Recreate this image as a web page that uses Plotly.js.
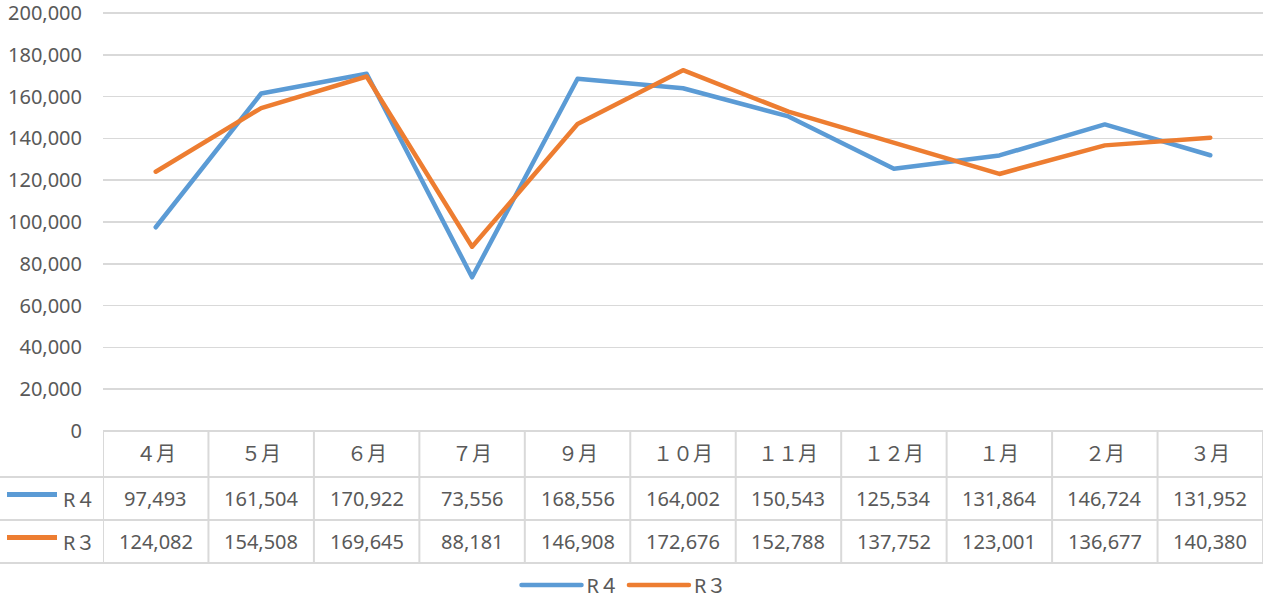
<!DOCTYPE html>
<html>
<head>
<meta charset="utf-8">
<script src="https://cdn.plot.ly/plotly-3.0.1.min.js"></script>
<style>
html,body{margin:0;padding:0;background:#fff;}
#chart{width:1268px;height:599px;}
.scatterlayer .js-line{stroke-linecap:round;stroke-linejoin:round;}
.legend .js-line{stroke-linecap:round;}
</style>
</head>
<body>
<div id="chart"></div>
<script>
// ---- data ----
var categories = ["４月","５月","６月","７月","９月","１０月","１１月","１２月","１月","２月","３月"];
var seriesNames = ["R４","R３"];
var r4Values = [97493,161504,170922,73556,168556,164002,150543,125534,131864,146724,131952];
var r3Values = [124082,154508,169645,88181,146908,172676,152788,137752,123001,136677,140380];
var yTicks = [0,20000,40000,60000,80000,100000,120000,140000,160000,180000,200000];

// ---- layout constants ----
var W = 1268, H = 599;
var L = 103, R = 5, T = 12, B = 168;
var plotW = W - L - R, plotH = H - T - B;
function py(p){ return (H - B - p) / plotH; }      // pixel y -> paper y
function px(p){ return (p - L) / plotW; }          // pixel x -> paper x

var blue = "#5B9BD5", orange = "#ED7D31";
var gridC = "#D9D9D9", textC = "#595959";
var FONT = "Noto Sans, Noto Sans CJK JP, sans-serif";
var FS = 20;

var traces = [
  {x: categories, y: r4Values, name: seriesNames[0], type: "scatter", mode: "lines",
   line: {color: blue, width: 4.5}, hoverinfo: "skip"},
  {x: categories, y: r3Values, name: seriesNames[1], type: "scatter", mode: "lines",
   line: {color: orange, width: 4.5}, hoverinfo: "skip"}
];

function fmt(v){ return v.toLocaleString("en-US"); }

var shapes = [], annotations = [];
var rowTop = 431, row1 = 477, row2 = 520, rowBot = 563;
var lineStyle = {color: gridC, width: 2};

// horizontal table lines
shapes.push({type:"line", xref:"paper", yref:"paper", x0:px(L), x1:px(W-R), y0:py(rowTop), y1:py(rowTop), line:lineStyle});
[row1,row2,rowBot].forEach(function(yy){
  shapes.push({type:"line", xref:"paper", yref:"paper", x0:px(0), x1:px(W-R), y0:py(yy), y1:py(yy), line:lineStyle});
});
// vertical table lines at category boundaries
for (var i = 0; i <= categories.length; i++){
  shapes.push({type:"line", xref:"x", yref:"paper", x0:i-0.5, x1:i-0.5, y0:py(rowTop), y1:py(rowBot), line:lineStyle});
}
// header and values
var rows = [
  {vals: categories, yc: (rowTop+row1)/2, fmt: function(v){return v;}, size: FS},
  {vals: r4Values, yc: (row1+row2)/2, fmt: fmt, size: FS},
  {vals: r3Values, yc: (row2+rowBot)/2, fmt: fmt, size: FS}
];
rows.forEach(function(r){
  r.vals.forEach(function(v, j){
    annotations.push({xref:"x", yref:"paper", x:j, y:py(r.yc), text:r.fmt(v), showarrow:false,
      xanchor:"center", yanchor:"middle", font:{family:FONT, size:r.size, color:textC}});
  });
});
// row header keys
[[seriesNames[0], blue, (row1+row2)/2 - 4],[seriesNames[1], orange, (row2+rowBot)/2 - 4]].forEach(function(k, idx){
  shapes.push({type:"line", xref:"paper", yref:"paper", x0:px(7), x1:px(57), y0:py(k[2]), y1:py(k[2]),
    line:{color:k[1], width:5}});
  annotations.push({xref:"paper", yref:"paper", x:px(61), y:py(k[2]+5), text:k[0], showarrow:false,
    xanchor:"left", yanchor:"middle", font:{family:FONT, size:FS, color:textC}});
});

var layout = {
  width: W, height: H,
  margin: {l: L, r: R, t: T, b: B, pad: 0, autoexpand: false},
  paper_bgcolor: "#fff", plot_bgcolor: "#fff",
  font: {family: FONT, size: FS, color: textC},
  showlegend: true,
  legend: {orientation: "h", x: px(624), xanchor: "center", y: py(585), yanchor: "middle",
           font: {family: FONT, size: FS, color: textC}, itemwidth: 60, traceorder: "normal",
           bgcolor: "rgba(0,0,0,0)"},
  xaxis: {type: "category", range: [-0.5, categories.length - 0.5], showticklabels: false,
          showgrid: false, zeroline: false, showline: false, ticks: "", fixedrange: true, automargin: false},
  yaxis: {range: [0, 200500], tickvals: yTicks, ticktext: yTicks.map(fmt),
          showgrid: true, gridcolor: gridC, gridwidth: 1.5, zeroline: false, showline: false,
          ticks: "", ticklabelstandoff: 20, ticklabeloverflow: "allow",
          tickfont: {family: FONT, size: FS, color: textC},
          fixedrange: true, automargin: false},
  shapes: shapes,
  annotations: annotations
};

Plotly.newPlot("chart", traces, layout, {displayModeBar: false, staticPlot: true});
</script>
</body>
</html>
